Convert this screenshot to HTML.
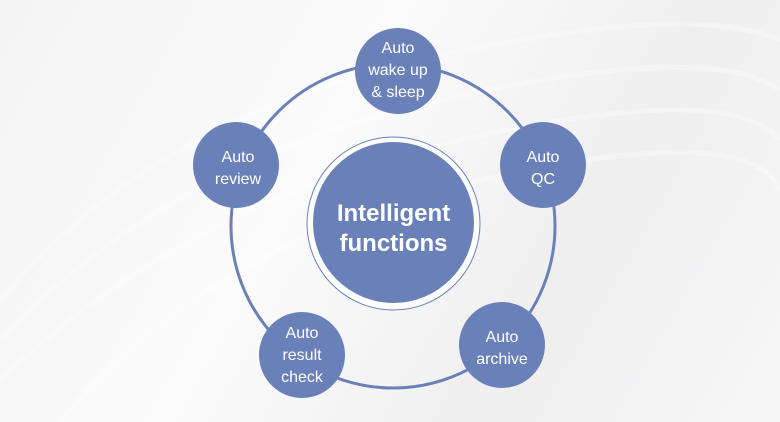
<!DOCTYPE html>
<html><head><style>
body{margin:0;width:780px;height:422px;overflow:hidden;background:linear-gradient(120deg,#f4f4f5 0%,#fbfbfb 40%,#efeff0 70%,#f7f7f8 100%);font-family:"Liberation Sans",Arial,sans-serif}
</style></head><body>
<svg width="780" height="422" xmlns="http://www.w3.org/2000/svg" style="display:block">
<g fill="none" stroke="#ffffff" stroke-width="5" opacity="0.35">
<path d="M0 300 Q150 120 420 60 T780 40"/><path d="M0 340 Q170 160 440 100 T780 90"/>
<path d="M0 380 Q190 200 460 140 T780 140"/><path d="M60 422 Q210 240 480 180 T780 190"/>
</g>
<circle cx="393" cy="226" r="162" fill="none" stroke="#6a80b9" stroke-width="3"/>
<circle cx="393.5" cy="223.5" r="86.5" fill="#fff" stroke="#6a80b9" stroke-width="1"/>
<circle cx="393.5" cy="222.5" r="80.5" fill="#6a80b9"/>
<text x="393.5" y="221" text-anchor="middle" fill="#fff" font-size="24" font-weight="bold">Intelligent</text>
<text x="393.5" y="251" text-anchor="middle" fill="#fff" font-size="24" font-weight="bold">functions</text>
<g fill="#6a80b9"><circle cx="398" cy="71" r="43"/><circle cx="543" cy="165" r="43"/><circle cx="502" cy="345" r="43"/><circle cx="302" cy="355" r="43"/><circle cx="236" cy="165" r="43"/></g>
<g fill="#fff" font-size="16" text-anchor="middle">
<text x="398" y="53">Auto</text><text x="398" y="75">wake up</text><text x="398" y="97">&amp; sleep</text>
<text x="543" y="162">Auto</text><text x="543" y="184">QC</text>
<text x="502" y="342">Auto</text><text x="502" y="364">archive</text>
<text x="302" y="338">Auto</text><text x="302" y="360">result</text><text x="302" y="382">check</text>
<text x="238" y="162">Auto</text><text x="238" y="184">review</text>
</g>
</svg>
</body></html>
